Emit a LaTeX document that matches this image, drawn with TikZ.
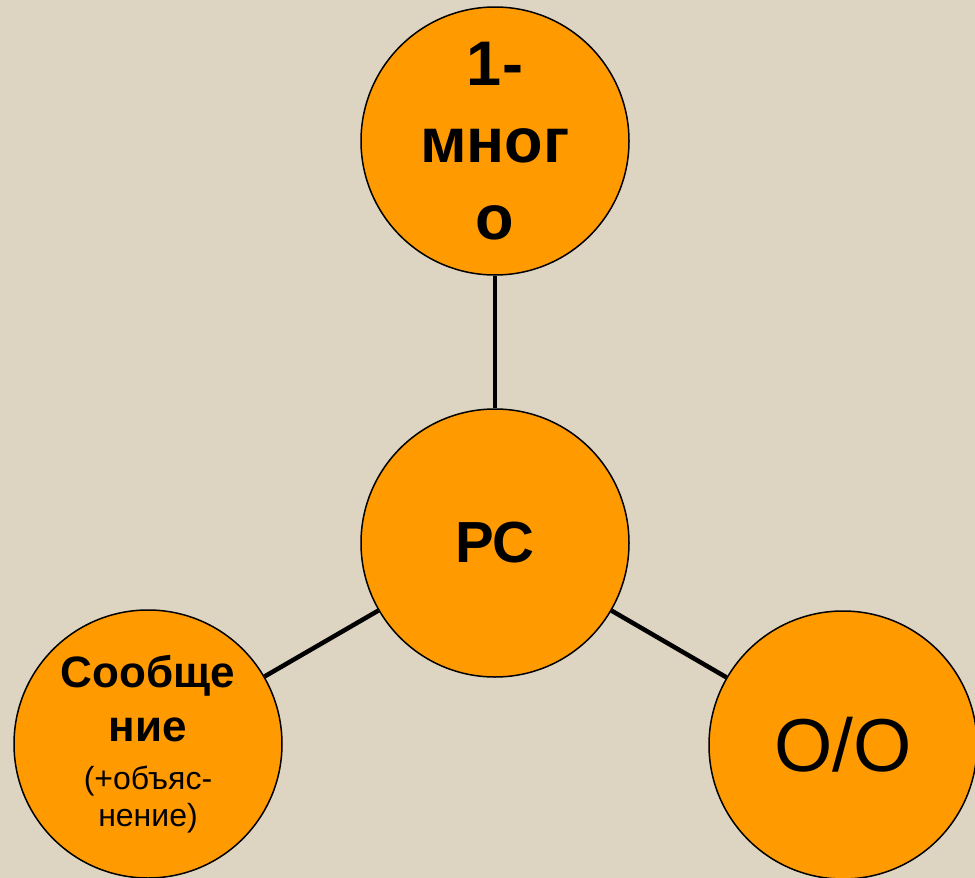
\documentclass[tikz,border=0pt]{standalone}
\usepackage{fontspec}
\setmainfont{Liberation Sans}
\definecolor{fond}{HTML}{DDD4C2}
\definecolor{orangeRS}{HTML}{FF9A00}
\begin{document}
\begin{tikzpicture}[x=1pt, y=-1pt,
	cercle/.style={draw, fill=orangeRS, circle, line width=1.5pt, minimum size=268pt, inner sep=0, align=center},
	lien/.style={line width=4.5pt}]
	\clip (0,0) rectangle (975,878);
	\fill[fond] (0,0) rectangle (975,878);
	
	\node[cercle, font=\bfseries\fontsize{63}{77}\selectfont] (mnogo) at (495,141) {1-\\мног\\о};
	\node[cercle, font=\bfseries\fontsize{58}{70}\selectfont] (RS) at (495,543) {РС};
	\node[cercle, font=\bfseries\fontsize{44}{54}\selectfont] (soob) at (148,744)
		{Сообще\\ние\\[-6pt]{\mdseries\fontsize{32}{37}\selectfont (+объяс-}\\[-17pt]{\mdseries\fontsize{32}{37}\selectfont нение)}};
	\node[cercle, font=\fontsize{75}{90}\selectfont] (OO) at (843,745) {О/О};
	
	\path (mnogo) edge[lien] (RS);
	\path (RS) edge[lien] (soob);
	\path (RS) edge[lien] (OO);
	
\end{tikzpicture}
\end{document}
